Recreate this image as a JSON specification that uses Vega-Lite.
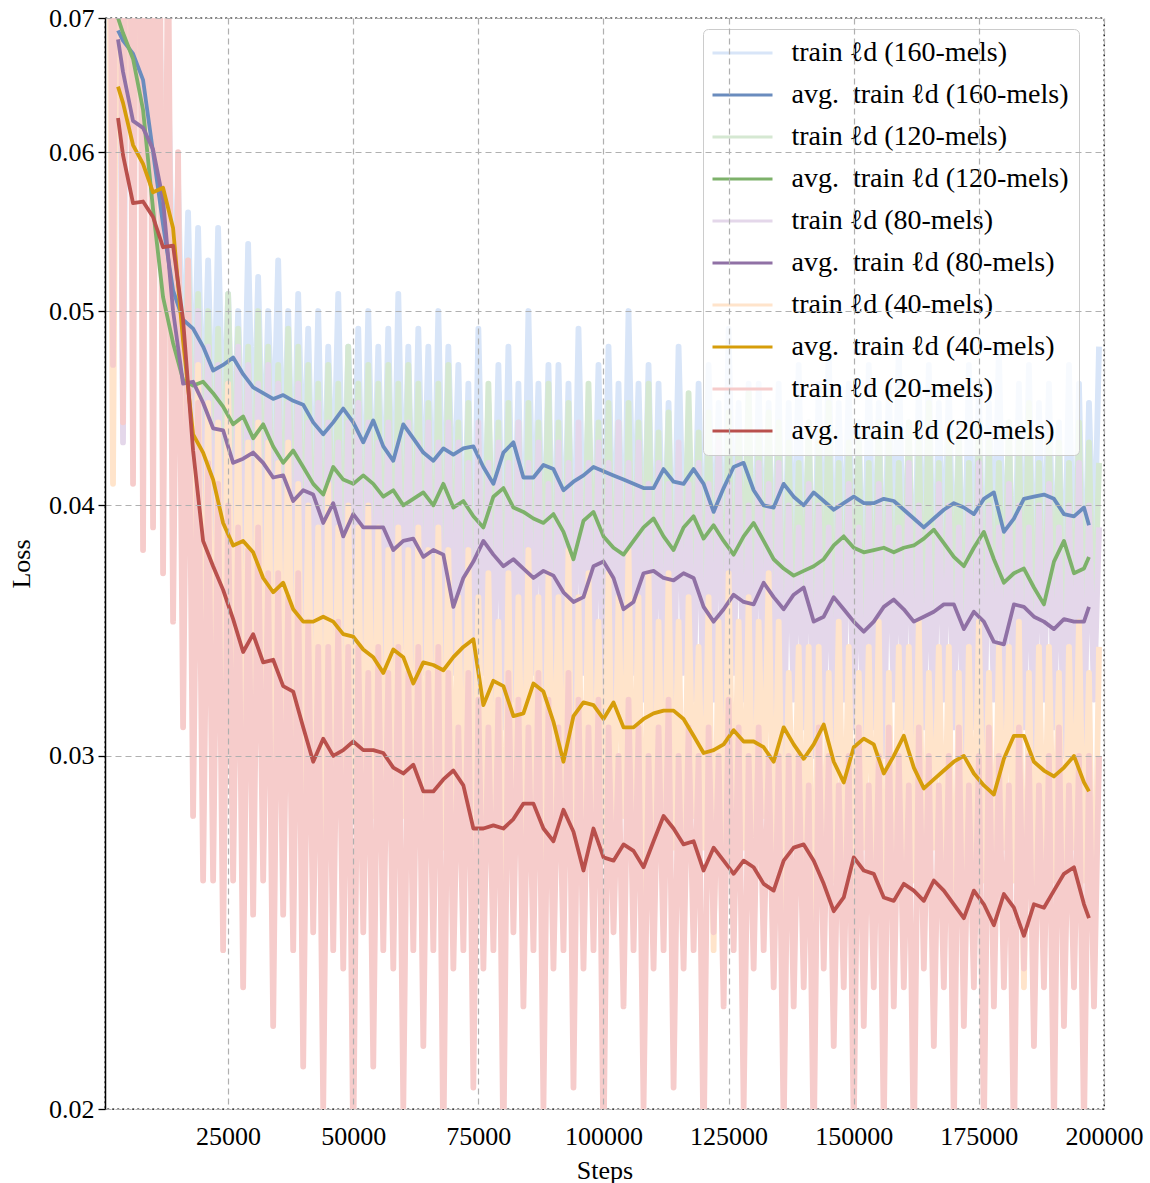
{
"$schema": "https://vega.github.io/schema/vega-lite/v6.json",
"width": 999,
"height": 1091,
"autosize": {"type": "none"},
"padding": {"left": 105, "top": 18, "right": 46, "bottom": 74},
"background": "white",
"config": {
  "font": "Liberation Serif",
  "view": {"stroke": "black", "strokeDash": [2, 3], "strokeWidth": 1.3},
  "axis": {"labelFont": "Liberation Serif", "titleFont": "Liberation Serif", "labelFontSize": 26, "titleFontSize": 26, "labelColor": "black", "titleColor": "black", "titleFontWeight": "normal", "gridColor": "#b0b0b0", "gridDash": [6, 4], "gridWidth": 1.2, "gridOpacity": 1}
},
"data": {"values": [
{"x":500,"b":0.1,"g":0.1,"p":0.1,"o":0.1,"r":0.15},
{"x":1000,"b":0.1,"g":0.1,"p":0.1,"o":0.1,"r":0.15},
{"x":2000,"b":0.066,"g":0.063,"p":0.058,"o":0.041,"r":0.047},
{"x":3000,"b":0.1,"g":0.1,"p":0.1,"o":0.1,"r":0.15,"B":0.069,"G":0.07,"P":0.0683,"O":0.0647,"R":0.0624},
{"x":4000,"b":0.065,"g":0.062,"p":0.043,"o":0.05,"r":0.044,"B":0.0682,"G":0.0688,"P":0.0658,"O":0.0635,"R":0.0598},
{"x":5000,"b":0.1,"g":0.1,"p":0.1,"o":0.1,"r":0.15},
{"x":6000,"b":0.062,"g":0.06,"p":0.056,"o":0.052,"r":0.041,"B":0.0672,"G":0.0668,"P":0.0622,"O":0.0605,"R":0.0566},
{"x":7000,"b":0.1,"g":0.1,"p":0.1,"o":0.1,"r":0.15},
{"x":8000,"b":0.06,"g":0.057,"p":0.056,"o":0.052,"r":0.038,"B":0.0652,"G":0.063,"P":0.0617,"O":0.0592,"R":0.0567},
{"x":9000,"b":0.095,"g":0.095,"p":0.095,"o":0.095,"r":0.14},
{"x":10000,"b":0.055,"g":0.052,"p":0.054,"o":0.05,"r":0.039,"B":0.06,"G":0.0562,"P":0.0602,"O":0.0573,"R":0.0557},
{"x":11000,"b":0.085,"g":0.08,"p":0.082,"o":0.082,"r":0.12},
{"x":12000,"b":0.05,"g":0.046,"p":0.05,"o":0.05,"r":0.037,"B":0.0552,"G":0.0508,"P":0.0568,"O":0.0576,"R":0.0538},
{"x":13000,"b":0.066,"g":0.062,"p":0.064,"o":0.066,"r":0.078},
{"x":14000,"b":0.05,"g":0.046,"p":0.042,"o":0.04,"r":0.035,"B":0.0512,"G":0.0482,"P":0.05,"O":0.055,"R":0.0539},
{"x":15000,"b":0.058,"g":0.054,"p":0.053,"o":0.057,"r":0.06},
{"x":16000,"b":0.046,"g":0.043,"p":0.039,"o":0.036,"r":0.031,"B":0.0495,"G":0.0462,"P":0.046,"O":0.0483,"R":0.0495},
{"x":17000,"b":0.056,"g":0.053,"p":0.051,"o":0.05,"r":0.053},
{"x":18000,"b":0.044,"g":0.041,"p":0.038,"o":0.034,"r":0.028,"B":0.049,"G":0.0459,"P":0.0461,"O":0.0434,"R":0.0426},
{"x":19000,"b":0.055,"g":0.051,"p":0.05,"o":0.047,"r":0.045},
{"x":20000,"b":0.043,"g":0.04,"p":0.037,"o":0.032,"r":0.026,"B":0.048,"G":0.0461,"P":0.045,"O":0.0425,"R":0.0384},
{"x":21000,"b":0.053,"g":0.05,"p":0.048,"o":0.045,"r":0.042},
{"x":22000,"b":0.042,"g":0.04,"p":0.037,"o":0.031,"r":0.026,"B":0.0467,"G":0.0455,"P":0.0437,"O":0.0412,"R":0.0373},
{"x":23000,"b":0.055,"g":0.049,"p":0.047,"o":0.044,"r":0.041},
{"x":24000,"b":0.043,"g":0.039,"p":0.036,"o":0.032,"r":0.024,"B":0.047,"G":0.0448,"P":0.0436,"O":0.0392,"R":0.0363},
{"x":25000,"b":0.051,"g":0.051,"p":0.046,"o":0.046,"r":0.04},
{"x":26000,"b":0.042,"g":0.04,"p":0.036,"o":0.031,"r":0.026,"B":0.0474,"G":0.0439,"P":0.042,"O":0.0382,"R":0.0351},
{"x":27000,"b":0.05,"g":0.049,"p":0.048,"o":0.044,"r":0.039},
{"x":28000,"b":0.041,"g":0.039,"p":0.035,"o":0.03,"r":0.023,"B":0.0465,"G":0.0443,"P":0.0422,"O":0.0384,"R":0.0338},
{"x":29000,"b":0.054,"g":0.048,"p":0.047,"o":0.043,"r":0.038},
{"x":30000,"b":0.042,"g":0.038,"p":0.036,"o":0.031,"r":0.025,"B":0.0458,"G":0.0432,"P":0.0425,"O":0.0379,"R":0.0345},
{"x":31000,"b":0.052,"g":0.05,"p":0.046,"o":0.044,"r":0.039},
{"x":32000,"b":0.041,"g":0.039,"p":0.035,"o":0.03,"r":0.026,"B":0.0455,"G":0.0439,"P":0.042,"O":0.0368,"R":0.0334},
{"x":33000,"b":0.05,"g":0.048,"p":0.047,"o":0.043,"r":0.037},
{"x":34000,"b":0.042,"g":0.038,"p":0.035,"o":0.029,"r":0.022,"B":0.0452,"G":0.0428,"P":0.0413,"O":0.0362,"R":0.0335},
{"x":35000,"b":0.053,"g":0.047,"p":0.046,"o":0.042,"r":0.037},
{"x":36000,"b":0.041,"g":0.038,"p":0.034,"o":0.03,"r":0.025,"B":0.0454,"G":0.042,"P":0.0414,"O":0.0366,"R":0.0325},
{"x":37000,"b":0.05,"g":0.049,"p":0.045,"o":0.043,"r":0.036},
{"x":38000,"b":0.04,"g":0.037,"p":0.035,"o":0.029,"r":0.024,"B":0.0451,"G":0.0426,"P":0.0402,"O":0.0355,"R":0.0323},
{"x":39000,"b":0.051,"g":0.048,"p":0.046,"o":0.041,"r":0.037},
{"x":40000,"b":0.041,"g":0.037,"p":0.034,"o":0.028,"r":0.021,"B":0.0449,"G":0.0418,"P":0.0407,"O":0.035,"R":0.031},
{"x":41000,"b":0.049,"g":0.047,"p":0.044,"o":0.04,"r":0.035},
{"x":42000,"b":0.039,"g":0.037,"p":0.034,"o":0.028,"r":0.0245,"B":0.044,"G":0.041,"P":0.0405,"O":0.035,"R":0.0298},
{"x":43000,"b":0.05,"g":0.046,"p":0.045,"o":0.039,"r":0.034},
{"x":44000,"b":0.039,"g":0.036,"p":0.033,"o":0.027,"r":0.02,"B":0.0434,"G":0.0405,"P":0.0392,"O":0.0352,"R":0.0306},
{"x":45000,"b":0.048,"g":0.047,"p":0.044,"o":0.041,"r":0.034},
{"x":46000,"b":0.04,"g":0.037,"p":0.034,"o":0.028,"r":0.024,"B":0.044,"G":0.0418,"P":0.0401,"O":0.035,"R":0.03},
{"x":47000,"b":0.051,"g":0.046,"p":0.043,"o":0.039,"r":0.035},
{"x":48000,"b":0.039,"g":0.036,"p":0.033,"o":0.027,"r":0.0235,"B":0.0447,"G":0.0412,"P":0.0386,"O":0.0345,"R":0.0302},
{"x":49000,"b":0.048,"g":0.048,"p":0.044,"o":0.04,"r":0.034},
{"x":50000,"b":0.039,"g":0.037,"p":0.034,"o":0.028,"r":0.019,"B":0.044,"G":0.041,"P":0.0396,"O":0.0344,"R":0.0305},
{"x":51000,"b":0.049,"g":0.046,"p":0.045,"o":0.039,"r":0.034},
{"x":52000,"b":0.038,"g":0.036,"p":0.033,"o":0.027,"r":0.0245,"B":0.043,"G":0.0414,"P":0.039,"O":0.0339,"R":0.0302},
{"x":53000,"b":0.05,"g":0.047,"p":0.044,"o":0.04,"r":0.033},
{"x":54000,"b":0.039,"g":0.037,"p":0.034,"o":0.028,"r":0.021,"B":0.0441,"G":0.041,"P":0.039,"O":0.0336,"R":0.0302},
{"x":55000,"b":0.048,"g":0.046,"p":0.043,"o":0.039,"r":0.034},
{"x":56000,"b":0.039,"g":0.036,"p":0.033,"o":0.027,"r":0.024,"B":0.0428,"G":0.0404,"P":0.039,"O":0.033,"R":0.0301},
{"x":57000,"b":0.049,"g":0.047,"p":0.044,"o":0.038,"r":0.033},
{"x":58000,"b":0.038,"g":0.036,"p":0.033,"o":0.027,"r":0.0235,"B":0.0421,"G":0.0407,"P":0.038,"O":0.0339,"R":0.0296},
{"x":59000,"b":0.051,"g":0.046,"p":0.043,"o":0.039,"r":0.034},
{"x":60000,"b":0.039,"g":0.036,"p":0.034,"o":0.028,"r":0.02,"B":0.0439,"G":0.04,"P":0.0384,"O":0.0336,"R":0.0294},
{"x":61000,"b":0.048,"g":0.047,"p":0.044,"o":0.038,"r":0.033},
{"x":62000,"b":0.038,"g":0.036,"p":0.033,"o":0.027,"r":0.024,"B":0.0432,"G":0.0403,"P":0.0385,"O":0.0326,"R":0.0297},
{"x":63000,"b":0.049,"g":0.046,"p":0.043,"o":0.039,"r":0.034},
{"x":64000,"b":0.039,"g":0.037,"p":0.033,"o":0.026,"r":0.0215,"B":0.0425,"G":0.0406,"P":0.0377,"O":0.0334,"R":0.0288},
{"x":65000,"b":0.048,"g":0.045,"p":0.044,"o":0.038,"r":0.033},
{"x":66000,"b":0.038,"g":0.036,"p":0.033,"o":0.027,"r":0.024,"B":0.0421,"G":0.04,"P":0.038,"O":0.0333,"R":0.0288},
{"x":67000,"b":0.05,"g":0.046,"p":0.043,"o":0.039,"r":0.034},
{"x":68000,"b":0.038,"g":0.035,"p":0.032,"o":0.027,"r":0.019,"B":0.0427,"G":0.041,"P":0.0378,"O":0.0331,"R":0.0292},
{"x":69000,"b":0.048,"g":0.047,"p":0.044,"o":0.038,"r":0.033},
{"x":70000,"b":0.039,"g":0.036,"p":0.033,"o":0.027,"r":0.0235,"B":0.0424,"G":0.0399,"P":0.0356,"O":0.0336,"R":0.0295},
{"x":71000,"b":0.047,"g":0.044,"p":0.043,"o":0.036,"r":0.031},
{"x":72000,"b":0.037,"g":0.035,"p":0.032,"o":0.027,"r":0.024,"B":0.0427,"G":0.0402,"P":0.0368,"O":0.034,"R":0.029},
{"x":73000,"b":0.046,"g":0.045,"p":0.042,"o":0.038,"r":0.033},
{"x":74000,"b":0.036,"g":0.034,"p":0.031,"o":0.026,"r":0.0205,"B":0.0428,"G":0.0395,"P":0.0375,"O":0.0343,"R":0.0276},
{"x":75000,"b":0.049,"g":0.043,"p":0.044,"o":0.036,"r":0.032},
{"x":76000,"b":0.038,"g":0.035,"p":0.033,"o":0.028,"r":0.0235,"B":0.0418,"G":0.039,"P":0.0384,"O":0.0318,"R":0.0276},
{"x":77000,"b":0.045,"g":0.046,"p":0.042,"o":0.037,"r":0.031},
{"x":78000,"b":0.037,"g":0.036,"p":0.032,"o":0.027,"r":0.024,"B":0.041,"G":0.0404,"P":0.0378,"O":0.0327,"R":0.0277},
{"x":79000,"b":0.047,"g":0.044,"p":0.043,"o":0.035,"r":0.032},
{"x":80000,"b":0.036,"g":0.034,"p":0.031,"o":0.024,"r":0.019,"B":0.0425,"G":0.0408,"P":0.0373,"O":0.0325,"R":0.0276},
{"x":81000,"b":0.048,"g":0.045,"p":0.042,"o":0.037,"r":0.033},
{"x":82000,"b":0.037,"g":0.035,"p":0.032,"o":0.026,"r":0.0245,"B":0.043,"G":0.0399,"P":0.0376,"O":0.0314,"R":0.0279},
{"x":83000,"b":0.046,"g":0.044,"p":0.044,"o":0.036,"r":0.032},
{"x":84000,"b":0.036,"g":0.034,"p":0.031,"o":0.027,"r":0.0225,"B":0.0413,"G":0.0397,"P":0.0372,"O":0.0315,"R":0.0284},
{"x":85000,"b":0.05,"g":0.045,"p":0.042,"o":0.038,"r":0.031},
{"x":86000,"b":0.038,"g":0.035,"p":0.033,"o":0.027,"r":0.024,"B":0.0413,"G":0.0394,"P":0.0368,"O":0.0326,"R":0.0284},
{"x":87000,"b":0.046,"g":0.044,"p":0.043,"o":0.036,"r":0.033},
{"x":88000,"b":0.037,"g":0.036,"p":0.032,"o":0.026,"r":0.02,"B":0.0419,"G":0.0392,"P":0.0371,"O":0.0323,"R":0.0276},
{"x":89000,"b":0.047,"g":0.046,"p":0.041,"o":0.037,"r":0.032},
{"x":90000,"b":0.036,"g":0.034,"p":0.031,"o":0.028,"r":0.0235,"B":0.0417,"G":0.0396,"P":0.0369,"O":0.0312,"R":0.0272},
{"x":91000,"b":0.047,"g":0.044,"p":0.043,"o":0.036,"r":0.031},
{"x":92000,"b":0.037,"g":0.035,"p":0.032,"o":0.027,"r":0.024,"B":0.0407,"G":0.0388,"P":0.0362,"O":0.0298,"R":0.0282},
{"x":93000,"b":0.046,"g":0.045,"p":0.042,"o":0.038,"r":0.033},
{"x":94000,"b":0.036,"g":0.034,"p":0.031,"o":0.024,"r":0.0205,"B":0.0411,"G":0.0376,"P":0.0358,"O":0.0314,"R":0.0275},
{"x":95000,"b":0.049,"g":0.043,"p":0.044,"o":0.036,"r":0.032},
{"x":96000,"b":0.038,"g":0.035,"p":0.033,"o":0.026,"r":0.0235,"B":0.0414,"G":0.0393,"P":0.036,"O":0.0319,"R":0.0263},
{"x":97000,"b":0.045,"g":0.046,"p":0.042,"o":0.037,"r":0.031},
{"x":98000,"b":0.037,"g":0.036,"p":0.032,"o":0.027,"r":0.024,"B":0.0418,"G":0.0397,"P":0.0373,"O":0.0318,"R":0.0276},
{"x":99000,"b":0.047,"g":0.044,"p":0.043,"o":0.035,"r":0.032},
{"x":100000,"b":0.036,"g":0.034,"p":0.031,"o":0.027,"r":0.019,"B":0.0416,"G":0.0386,"P":0.0375,"O":0.0313,"R":0.0267},
{"x":101000,"b":0.048,"g":0.045,"p":0.042,"o":0.037,"r":0.031},
{"x":102000,"b":0.037,"g":0.035,"p":0.032,"o":0.026,"r":0.0245,"B":0.0414,"G":0.0381,"P":0.0368,"O":0.0319,"R":0.0266},
{"x":103000,"b":0.046,"g":0.044,"p":0.044,"o":0.036,"r":0.03},
{"x":104000,"b":0.036,"g":0.034,"p":0.031,"o":0.028,"r":0.0225,"B":0.0412,"G":0.0378,"P":0.0355,"O":0.031,"R":0.0271},
{"x":105000,"b":0.05,"g":0.045,"p":0.042,"o":0.038,"r":0.032},
{"x":106000,"b":0.038,"g":0.035,"p":0.033,"o":0.027,"r":0.024,"B":0.041,"G":0.0384,"P":0.0358,"O":0.031,"R":0.0269},
{"x":107000,"b":0.046,"g":0.044,"p":0.043,"o":0.036,"r":0.031},
{"x":108000,"b":0.037,"g":0.036,"p":0.032,"o":0.024,"r":0.02,"B":0.0408,"G":0.039,"P":0.037,"O":0.0313,"R":0.0264},
{"x":109000,"b":0.047,"g":0.046,"p":0.041,"o":0.037,"r":0.03},
{"x":110000,"b":0.036,"g":0.034,"p":0.031,"o":0.026,"r":0.0235,"B":0.0408,"G":0.0394,"P":0.0371,"O":0.0315,"R":0.0272},
{"x":111000,"b":0.046,"g":0.0435,"p":0.042,"o":0.035,"r":0.031},
{"x":112000,"b":0.037,"g":0.035,"p":0.032,"o":0.027,"r":0.024,"B":0.0417,"G":0.0386,"P":0.0368,"O":0.0316,"R":0.028},
{"x":113000,"b":0.045,"g":0.0445,"p":0.041,"o":0.037,"r":0.032},
{"x":114000,"b":0.036,"g":0.034,"p":0.031,"o":0.027,"r":0.0205,"B":0.0411,"G":0.038,"P":0.0367,"O":0.0316,"R":0.0276},
{"x":115000,"b":0.048,"g":0.0425,"p":0.043,"o":0.035,"r":0.03},
{"x":116000,"b":0.038,"g":0.035,"p":0.033,"o":0.026,"r":0.0235,"B":0.041,"G":0.039,"P":0.037,"O":0.0313,"R":0.0271},
{"x":117000,"b":0.044,"g":0.0455,"p":0.041,"o":0.036,"r":0.031},
{"x":118000,"b":0.037,"g":0.036,"p":0.032,"o":0.028,"r":0.024,"B":0.0417,"G":0.0395,"P":0.0368,"O":0.0307,"R":0.0272},
{"x":119000,"b":0.046,"g":0.0435,"p":0.042,"o":0.034,"r":0.03},
{"x":120000,"b":0.036,"g":0.034,"p":0.031,"o":0.027,"r":0.019,"B":0.041,"G":0.0385,"P":0.0356,"O":0.0301,"R":0.0263},
{"x":121000,"b":0.047,"g":0.0445,"p":0.041,"o":0.036,"r":0.031},
{"x":122000,"b":0.037,"g":0.035,"p":0.032,"o":0.024,"r":0.0245,"B":0.0397,"G":0.0391,"P":0.035,"O":0.0302,"R":0.027},
{"x":123000,"b":0.045,"g":0.0435,"p":0.043,"o":0.035,"r":0.03},
{"x":124000,"b":0.036,"g":0.034,"p":0.031,"o":0.026,"r":0.0225,"B":0.0408,"G":0.0384,"P":0.0355,"O":0.0304,"R":0.0266},
{"x":125000,"b":0.049,"g":0.0445,"p":0.041,"o":0.037,"r":0.032},
{"x":126000,"b":0.038,"g":0.035,"p":0.033,"o":0.027,"r":0.024,"B":0.0418,"G":0.0378,"P":0.0361,"O":0.0309,"R":0.0262},
{"x":127000,"b":0.045,"g":0.0435,"p":0.042,"o":0.035,"r":0.031},
{"x":128000,"b":0.037,"g":0.036,"p":0.032,"o":0.027,"r":0.02,"B":0.042,"G":0.0386,"P":0.0358,"O":0.0305,"R":0.0266},
{"x":129000,"b":0.046,"g":0.0455,"p":0.04,"o":0.036,"r":0.03},
{"x":130000,"b":0.036,"g":0.034,"p":0.031,"o":0.026,"r":0.0235,"B":0.0407,"G":0.0392,"P":0.0357,"O":0.0305,"R":0.0264},
{"x":131000,"b":0.046,"g":0.0435,"p":0.042,"o":0.035,"r":0.031},
{"x":132000,"b":0.037,"g":0.035,"p":0.032,"o":0.028,"r":0.024,"B":0.04,"G":0.0384,"P":0.0366,"O":0.0303,"R":0.0259},
{"x":133000,"b":0.045,"g":0.0445,"p":0.041,"o":0.037,"r":0.03},
{"x":134000,"b":0.036,"g":0.034,"p":0.031,"o":0.026,"r":0.023,"B":0.0399,"G":0.0376,"P":0.036,"O":0.0298,"R":0.0257},
{"x":135000,"b":0.046,"g":0.044,"p":0.042,"o":0.035,"r":0.03},
{"x":136000,"b":0.035,"g":0.033,"p":0.03,"o":0.025,"r":0.0195,"B":0.041,"G":0.0372,"P":0.0355,"O":0.031,"R":0.0266},
{"x":137000,"b":0.045,"g":0.043,"p":0.04,"o":0.033,"r":0.03},
{"x":138000,"b":0.037,"g":0.034,"p":0.032,"o":0.027,"r":0.0225,"B":0.0404,"G":0.0369,"P":0.0361,"O":0.0304,"R":0.027},
{"x":139000,"b":0.047,"g":0.042,"p":0.039,"o":0.034,"r":0.03},
{"x":140000,"b":0.036,"g":0.035,"p":0.031,"o":0.026,"r":0.023,"B":0.04,"G":0.0371,"P":0.0364,"O":0.0299,"R":0.0271},
{"x":141000,"b":0.044,"g":0.044,"p":0.041,"o":0.034,"r":0.029},
{"x":142000,"b":0.035,"g":0.033,"p":0.03,"o":0.023,"r":0.019,"B":0.0406,"G":0.0373,"P":0.035,"O":0.0304,"R":0.0266},
{"x":143000,"b":0.046,"g":0.043,"p":0.04,"o":0.034,"r":0.031},
{"x":144000,"b":0.036,"g":0.034,"p":0.031,"o":0.025,"r":0.0235,"B":0.0402,"G":0.0376,"P":0.0352,"O":0.0311,"R":0.0259},
{"x":145000,"b":0.048,"g":0.045,"p":0.039,"o":0.033,"r":0.03},
{"x":146000,"b":0.035,"g":0.033,"p":0.03,"o":0.026,"r":0.0215,"B":0.0398,"G":0.0382,"P":0.036,"O":0.0298,"R":0.0251},
{"x":147000,"b":0.045,"g":0.042,"p":0.04,"o":0.035,"r":0.029},
{"x":148000,"b":0.037,"g":0.034,"p":0.032,"o":0.026,"r":0.023,"B":0.0401,"G":0.0386,"P":0.0355,"O":0.0291,"R":0.0255},
{"x":149000,"b":0.046,"g":0.043,"p":0.041,"o":0.034,"r":0.03},
{"x":150000,"b":0.036,"g":0.035,"p":0.031,"o":0.025,"r":0.0195,"B":0.0404,"G":0.0381,"P":0.035,"O":0.0303,"R":0.0267},
{"x":151000,"b":0.044,"g":0.043,"p":0.039,"o":0.033,"r":0.031},
{"x":152000,"b":0.035,"g":0.033,"p":0.03,"o":0.027,"r":0.022,"B":0.0401,"G":0.0379,"P":0.0346,"O":0.0306,"R":0.0263},
{"x":153000,"b":0.047,"g":0.042,"p":0.04,"o":0.034,"r":0.029},
{"x":154000,"b":0.036,"g":0.034,"p":0.031,"o":0.026,"r":0.023,"B":0.0401,"G":0.038,"P":0.035,"O":0.0304,"R":0.0262},
{"x":155000,"b":0.045,"g":0.044,"p":0.041,"o":0.035,"r":0.03},
{"x":156000,"b":0.035,"g":0.033,"p":0.03,"o":0.023,"r":0.0195,"B":0.0403,"G":0.0381,"P":0.0356,"O":0.0294,"R":0.0255},
{"x":157000,"b":0.046,"g":0.043,"p":0.04,"o":0.033,"r":0.031},
{"x":158000,"b":0.037,"g":0.034,"p":0.032,"o":0.025,"r":0.0225,"B":0.0402,"G":0.0379,"P":0.0359,"O":0.03,"R":0.0254},
{"x":159000,"b":0.048,"g":0.042,"p":0.039,"o":0.034,"r":0.03},
{"x":160000,"b":0.036,"g":0.035,"p":0.031,"o":0.026,"r":0.023,"B":0.0398,"G":0.0381,"P":0.0355,"O":0.0307,"R":0.0259},
{"x":161000,"b":0.044,"g":0.044,"p":0.042,"o":0.034,"r":0.029},
{"x":162000,"b":0.035,"g":0.033,"p":0.03,"o":0.026,"r":0.019,"B":0.0394,"G":0.0382,"P":0.035,"O":0.0296,"R":0.0257},
{"x":163000,"b":0.046,"g":0.043,"p":0.04,"o":0.035,"r":0.031},
{"x":164000,"b":0.036,"g":0.034,"p":0.031,"o":0.025,"r":0.0235,"B":0.039,"G":0.0385,"P":0.0352,"O":0.0289,"R":0.0254},
{"x":165000,"b":0.047,"g":0.045,"p":0.039,"o":0.033,"r":0.03},
{"x":166000,"b":0.035,"g":0.033,"p":0.03,"o":0.027,"r":0.0215,"B":0.0394,"G":0.0389,"P":0.0354,"O":0.0292,"R":0.026},
{"x":167000,"b":0.045,"g":0.042,"p":0.041,"o":0.034,"r":0.029},
{"x":168000,"b":0.037,"g":0.034,"p":0.032,"o":0.026,"r":0.023,"B":0.0398,"G":0.0383,"P":0.0357,"O":0.0295,"R":0.0257},
{"x":169000,"b":0.046,"g":0.043,"p":0.04,"o":0.034,"r":0.03},
{"x":170000,"b":0.036,"g":0.035,"p":0.031,"o":0.023,"r":0.0195,"B":0.0401,"G":0.0377,"P":0.0357,"O":0.0298,"R":0.0253},
{"x":171000,"b":0.044,"g":0.043,"p":0.039,"o":0.033,"r":0.031},
{"x":172000,"b":0.035,"g":0.033,"p":0.03,"o":0.025,"r":0.022,"B":0.0399,"G":0.0373,"P":0.0347,"O":0.03,"R":0.0249},
{"x":173000,"b":0.047,"g":0.042,"p":0.04,"o":0.034,"r":0.029},
{"x":174000,"b":0.036,"g":0.034,"p":0.031,"o":0.026,"r":0.023,"B":0.0396,"G":0.0381,"P":0.0354,"O":0.0294,"R":0.0257},
{"x":175000,"b":0.046,"g":0.044,"p":0.042,"o":0.035,"r":0.03},
{"x":176000,"b":0.035,"g":0.033,"p":0.03,"o":0.026,"r":0.0195,"B":0.0403,"G":0.0388,"P":0.035,"O":0.029,"R":0.0253},
{"x":177000,"b":0.045,"g":0.043,"p":0.04,"o":0.033,"r":0.031},
{"x":178000,"b":0.037,"g":0.034,"p":0.032,"o":0.025,"r":0.0225,"B":0.0406,"G":0.0376,"P":0.0342,"O":0.0287,"R":0.0247},
{"x":179000,"b":0.048,"g":0.042,"p":0.039,"o":0.034,"r":0.03},
{"x":180000,"b":0.036,"g":0.035,"p":0.031,"o":0.027,"r":0.023,"B":0.0388,"G":0.0366,"P":0.0341,"O":0.0299,"R":0.0256},
{"x":181000,"b":0.044,"g":0.044,"p":0.041,"o":0.034,"r":0.029},
{"x":182000,"b":0.035,"g":0.033,"p":0.03,"o":0.026,"r":0.019,"B":0.0394,"G":0.037,"P":0.0357,"O":0.0307,"R":0.0252},
{"x":183000,"b":0.046,"g":0.043,"p":0.04,"o":0.035,"r":0.031},
{"x":184000,"b":0.036,"g":0.034,"p":0.031,"o":0.023,"r":0.0235,"B":0.0403,"G":0.0372,"P":0.0356,"O":0.0307,"R":0.0244},
{"x":185000,"b":0.047,"g":0.045,"p":0.039,"o":0.033,"r":0.03},
{"x":186000,"b":0.035,"g":0.033,"p":0.03,"o":0.025,"r":0.0215,"B":0.0404,"G":0.0364,"P":0.0352,"O":0.0298,"R":0.0253},
{"x":187000,"b":0.045,"g":0.042,"p":0.04,"o":0.034,"r":0.029},
{"x":188000,"b":0.037,"g":0.034,"p":0.032,"o":0.026,"r":0.023,"B":0.0405,"G":0.0357,"P":0.035,"O":0.0295,"R":0.0252},
{"x":189000,"b":0.046,"g":0.043,"p":0.041,"o":0.034,"r":0.03},
{"x":190000,"b":0.036,"g":0.035,"p":0.031,"o":0.026,"r":0.0195,"B":0.0403,"G":0.0375,"P":0.0347,"O":0.0293,"R":0.0257},
{"x":191000,"b":0.044,"g":0.043,"p":0.039,"o":0.033,"r":0.031},
{"x":192000,"b":0.035,"g":0.033,"p":0.03,"o":0.025,"r":0.022,"B":0.0396,"G":0.0384,"P":0.0351,"O":0.0296,"R":0.0262},
{"x":193000,"b":0.047,"g":0.042,"p":0.04,"o":0.034,"r":0.029},
{"x":194000,"b":0.036,"g":0.034,"p":0.031,"o":0.027,"r":0.023,"B":0.0395,"G":0.037,"P":0.035,"O":0.03,"R":0.0264},
{"x":195000,"b":0.046,"g":0.044,"p":0.042,"o":0.035,"r":0.03},
{"x":196000,"b":0.035,"g":0.033,"p":0.03,"o":0.026,"r":0.0195,"B":0.0399,"G":0.0372,"P":0.035,"O":0.0291,"R":0.0253},
{"x":197000,"b":0.045,"g":0.043,"p":0.04,"o":0.033,"r":0.03,"B":0.0391,"G":0.0377,"P":0.0356,"O":0.0288,"R":0.0249},
{"x":198000,"b":0.037,"g":0.034,"p":0.032,"o":0.023,"r":0.0225},
{"x":199000,"b":0.048,"g":0.042,"p":0.039,"o":0.034,"r":0.03}
]},
"encoding": {
  "x": {"field": "x", "type": "quantitative", "title": "Steps",
    "scale": {"domain": [400, 200000], "nice": false, "zero": false},
    "axis": {"values": [25000, 50000, 75000, 100000, 125000, 150000, 175000, 200000], "format": "d", "ticks": false, "domain": false, "labelPadding": 14, "labelFlush": false, "titlePadding": 8, "grid": true, "zindex": 1}}
},
"layer": [
  {"mark": {"type": "line", "strokeWidth": 5.8, "strokeJoin": "round", "clip": true},
   "encoding": {
     "y": {"field": "b", "type": "quantitative", "title": "Loss",
       "scale": {"type": "log", "domain": [0.02, 0.07], "nice": false},
       "axis": {"values": [0.02, 0.03, 0.04, 0.05, 0.06, 0.07], "format": ".2f", "tickSize": 7, "tickColor": "black", "tickWidth": 1.3, "domainColor": "black", "domainWidth": 1.5, "labelPadding": 4, "titlePadding": 14, "grid": true, "zindex": 1}},
     "color": {"datum": "train ℓd (160-mels)",
       "scale": {"domain": ["train ℓd (160-mels)", "avg.\u2002train ℓd (160-mels)", "train ℓd (120-mels)", "avg.\u2002train ℓd (120-mels)", "train ℓd (80-mels)", "avg.\u2002train ℓd (80-mels)", "train ℓd (40-mels)", "avg.\u2002train ℓd (40-mels)", "train ℓd (20-mels)", "avg.\u2002train ℓd (20-mels)"],
                 "range": ["#D8E5F8", "#6A8CBE", "#D5E8D2", "#7DB16A", "#E4D7EA", "#9071A5", "#FFE4CB", "#D69D0A", "#F6CCCB", "#B9504C"]},
       "legend": {"title": null, "orient": "none", "legendX": 598, "legendY": 11, "direction": "vertical", "columns": 1,
         "symbolType": "M-3,0H3", "symbolSize": 400, "symbolStrokeWidth": 3, "symbolOffset": 15.5, "labelOffset": 35, "rowPadding": 14,
         "labelFont": "Liberation Serif", "labelFontSize": 28, "labelColor": "black", "labelLimit": 500,
         "padding": 10, "fillColor": "rgba(255,255,255,0.8)", "strokeColor": "#cccccc", "cornerRadius": 5}}
   }},
  {"mark": {"type": "line", "strokeWidth": 5.8, "strokeJoin": "round", "clip": true},
   "encoding": {"y": {"field": "g", "type": "quantitative", "title": "Loss", "scale": {"type": "log", "domain": [0.02, 0.07], "nice": false}}, "color": {"datum": "train ℓd (120-mels)"}}},
  {"mark": {"type": "line", "strokeWidth": 5.8, "strokeJoin": "round", "clip": true},
   "encoding": {"y": {"field": "p", "type": "quantitative", "title": "Loss", "scale": {"type": "log", "domain": [0.02, 0.07], "nice": false}}, "color": {"datum": "train ℓd (80-mels)"}}},
  {"mark": {"type": "line", "strokeWidth": 5.8, "strokeJoin": "round", "clip": true},
   "encoding": {"y": {"field": "o", "type": "quantitative", "title": "Loss", "scale": {"type": "log", "domain": [0.02, 0.07], "nice": false}}, "color": {"datum": "train ℓd (40-mels)"}}},
  {"mark": {"type": "line", "strokeWidth": 5.8, "strokeJoin": "round", "clip": true},
   "encoding": {"y": {"field": "r", "type": "quantitative", "title": "Loss", "scale": {"type": "log", "domain": [0.02, 0.07], "nice": false}}, "color": {"datum": "train ℓd (20-mels)"}}},
  {"transform": [{"filter": {"field": "B", "valid": true}}],
   "mark": {"type": "line", "strokeWidth": 3.8, "strokeJoin": "round", "clip": true},
   "encoding": {"y": {"field": "B", "type": "quantitative", "title": "Loss", "scale": {"type": "log", "domain": [0.02, 0.07], "nice": false}}, "color": {"datum": "avg.\u2002train ℓd (160-mels)"}}},
  {"transform": [{"filter": {"field": "G", "valid": true}}],
   "mark": {"type": "line", "strokeWidth": 3.8, "strokeJoin": "round", "clip": true},
   "encoding": {"y": {"field": "G", "type": "quantitative", "title": "Loss", "scale": {"type": "log", "domain": [0.02, 0.07], "nice": false}}, "color": {"datum": "avg.\u2002train ℓd (120-mels)"}}},
  {"transform": [{"filter": {"field": "P", "valid": true}}],
   "mark": {"type": "line", "strokeWidth": 3.8, "strokeJoin": "round", "clip": true},
   "encoding": {"y": {"field": "P", "type": "quantitative", "title": "Loss", "scale": {"type": "log", "domain": [0.02, 0.07], "nice": false}}, "color": {"datum": "avg.\u2002train ℓd (80-mels)"}}},
  {"transform": [{"filter": {"field": "O", "valid": true}}],
   "mark": {"type": "line", "strokeWidth": 3.8, "strokeJoin": "round", "clip": true},
   "encoding": {"y": {"field": "O", "type": "quantitative", "title": "Loss", "scale": {"type": "log", "domain": [0.02, 0.07], "nice": false}}, "color": {"datum": "avg.\u2002train ℓd (40-mels)"}}},
  {"transform": [{"filter": {"field": "R", "valid": true}}],
   "mark": {"type": "line", "strokeWidth": 3.8, "strokeJoin": "round", "clip": true},
   "encoding": {"y": {"field": "R", "type": "quantitative", "title": "Loss", "scale": {"type": "log", "domain": [0.02, 0.07], "nice": false}}, "color": {"datum": "avg.\u2002train ℓd (20-mels)"}}}
]
}
